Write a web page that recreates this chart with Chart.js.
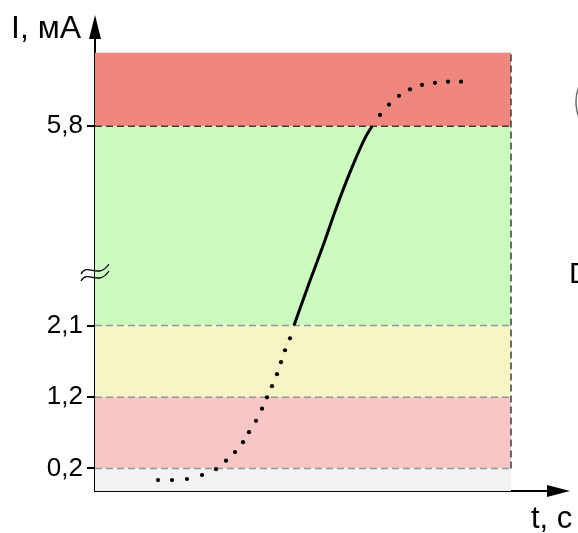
<!DOCTYPE html>
<html>
<head>
<meta charset="utf-8">
<script src="https://cdn.jsdelivr.net/npm/chart.js@4"></script>
<style>
  html, body { margin: 0; background: #fff; }
  #wrap { width: 578px; height: 533px; }
</style>
</head>
<body>
<div id="wrap"><canvas id="chart"></canvas></div>
<script>
/* current vs time, with the signal zones of the loop */

// y axis: only these levels are labelled
const yTickValues = [0.2, 1.2, 2.1, 5.8];
const yTickLabels = ["0,2", "1,2", "2,1", "5,8"];

// zone tops (mA), bottom zone runs down to the axis
const bandTops = [0.2, 1.2, 2.1, 5.8, 7.15];
const bandColors = ["#f2f3f3", "#f7c6c6", "#f7f5c5", "#ccfbc0", "#f0877e"];
const bandEdgeColors = ["#959595", "#959595", "#959595", "#3c3c3c", "rgba(0,0,0,0)"];
const bandEndT = 41.6;

// rising part before the working zone (dotted)
const riseT = [6.3, 7.7, 9.2, 10.7, 12.1, 13.1, 14.0, 14.8, 15.4, 16.1, 16.7, 17.2, 17.7, 18.2, 18.6, 19.0, 19.5];
const riseI = [0.04, 0.04, 0.055, 0.11, 0.19, 0.31, 0.43, 0.57, 0.71, 0.87, 1.04, 1.2, 1.34, 1.49, 1.64, 1.79, 1.94];

// working range 2,1 … 5,8 (solid)
const workT = [19.9, 21.3, 22.8, 24.2, 25.75, 27.05, 27.7];
const workI = [2.1, 2.83, 3.58, 4.32, 5.06, 5.6, 5.8];

// saturation above 5,8 (dotted)
const satT = [28.5, 29.4, 30.4, 31.5, 32.7, 34.0, 35.3, 36.6];
const satI = [6.01, 6.2, 6.36, 6.48, 6.56, 6.6, 6.62, 6.62];

const FONT = "'Liberation Sans', Arial, sans-serif";

// broken y axis: piecewise linear between knots (value -> fraction of axis height)
const Y_MIN = -0.11, Y_MAX = 7.46;
const KNOT_V = [Y_MIN, 0.2, 1.2, 2.1, 5.8, Y_MAX];
const KNOT_D = [0, 0.0495, 0.2059, 0.3637, 0.8015, 1];

function interp(xs, ys, v) {
  let i = 0;
  while (i < xs.length - 2 && v > xs[i + 1]) i++;
  return ys[i] + (v - xs[i]) * (ys[i + 1] - ys[i]) / (xs[i + 1] - xs[i]);
}

class BrokenScale extends Chart.LinearScale {
  static id = "broken";
  static defaults = Chart.LinearScale.defaults;
  getPixelForValue(v) { return this.getPixelForDecimal(interp(KNOT_V, KNOT_D, v)); }
  getValueForPixel(p) { return interp(KNOT_D, KNOT_V, this.getDecimalForPixel(p)); }
}
Chart.register(BrokenScale);

const pts = (ts, vs) => ts.map((t, i) => ({ x: t, y: vs[i] }));

const bandSets = bandTops.map((top, i) => ({
  data: [{ x: 0, y: top }, { x: bandEndT, y: top }],
  fill: i === 0 ? "start" : "-1",
  backgroundColor: bandColors[i],
  borderColor: bandEdgeColors[i],
  borderWidth: 1.5,
  borderDash: [7, 4],
  pointRadius: 0,
  order: 10,
}));

const decor = {
  id: "decor",
  afterDraw(chart) {
    const { ctx, chartArea: a } = chart;
    ctx.save();
    ctx.fillStyle = "#000";
    // axis arrows
    ctx.beginPath();
    ctx.moveTo(a.left, 15); ctx.lineTo(a.left - 6, 39); ctx.lineTo(a.left + 6, 39);
    ctx.closePath(); ctx.fill();
    ctx.beginPath();
    ctx.moveTo(570, a.bottom); ctx.lineTo(547, a.bottom - 6); ctx.lineTo(547, a.bottom + 6);
    ctx.closePath(); ctx.fill();
    // axis titles
    ctx.textBaseline = "alphabetic";
    ctx.textAlign = "left";
    ctx.font = "32px " + FONT;
    ctx.fillText("I, мА", 11, 38);
    ctx.font = "31px " + FONT;
    ctx.fillText("t, с", 531, 528);
    // break mark on the y axis
    ctx.strokeStyle = "#000";
    ctx.lineWidth = 1.3;
    [0, 7].forEach((dy) => {
      ctx.beginPath();
      ctx.moveTo(81, 274 + dy);
      ctx.bezierCurveTo(88, 262 + dy, 98, 280 + dy, 109, 264 + dy);
      ctx.stroke();
    });
    // bits of the neighbouring figure cut off at the right edge
    ctx.strokeStyle = "#6a6a6a";
    ctx.lineWidth = 1.5;
    ctx.beginPath();
    ctx.arc(616, 102, 40, Math.PI * 0.72, Math.PI * 1.28);
    ctx.stroke();
    ctx.font = "30px " + FONT;
    ctx.fillText("D", 569, 283);
    ctx.restore();
  },
};

new Chart(document.getElementById("chart"), {
  type: "line",
  data: {
    datasets: [
      ...bandSets,
      {
        data: [{ x: bandEndT, y: 0.2 }, { x: bandEndT, y: bandTops[bandTops.length - 1] }],
        borderColor: "#3c3c3c", borderWidth: 1.5, borderDash: [7, 4], pointRadius: 0, fill: false, order: 5,
      },
      { data: pts(workT, workI), borderColor: "#000", borderWidth: 3, cubicInterpolationMode: "monotone", pointRadius: 0, fill: false, order: 1 },
      { data: pts(riseT, riseI), showLine: false, pointRadius: 2.1, pointBackgroundColor: "#000", pointBorderWidth: 0, fill: false, order: 1 },
      { data: pts(satT, satI), showLine: false, pointRadius: 2.1, pointBackgroundColor: "#000", pointBorderWidth: 0, fill: false, order: 1 },
    ],
  },
  options: {
    responsive: true, maintainAspectRatio: false, animation: false,
    layout: { padding: { top: 36, right: 28, bottom: 0, left: 0 } },
    plugins: { legend: { display: false }, tooltip: { enabled: false }, filler: { drawTime: "beforeDatasetsDraw" } },
    scales: {
      x: {
        type: "linear", min: 0, max: 45.5, z: 1,
        ticks: { display: false },
        grid: { display: false },
        border: { display: true, color: "#000", width: 2 },
        afterFit: (s) => { s.height = 42; },
      },
      y: {
        type: "broken", min: Y_MIN, max: Y_MAX, z: 1,
        afterBuildTicks: (s) => { s.ticks = yTickValues.map((v) => ({ value: v })); },
        ticks: {
          color: "#000", padding: 4, font: { family: FONT, size: 26 },
          callback: (v) => yTickLabels[yTickValues.indexOf(v)],
        },
        grid: { display: true, drawOnChartArea: false, drawTicks: true, tickLength: 8, color: "#000", lineWidth: 2 },
        border: { display: true, color: "#000", width: 2 },
        afterFit: (s) => { s.width = 95; },
      },
    },
  },
  plugins: [decor],
});
</script>
</body>
</html>
